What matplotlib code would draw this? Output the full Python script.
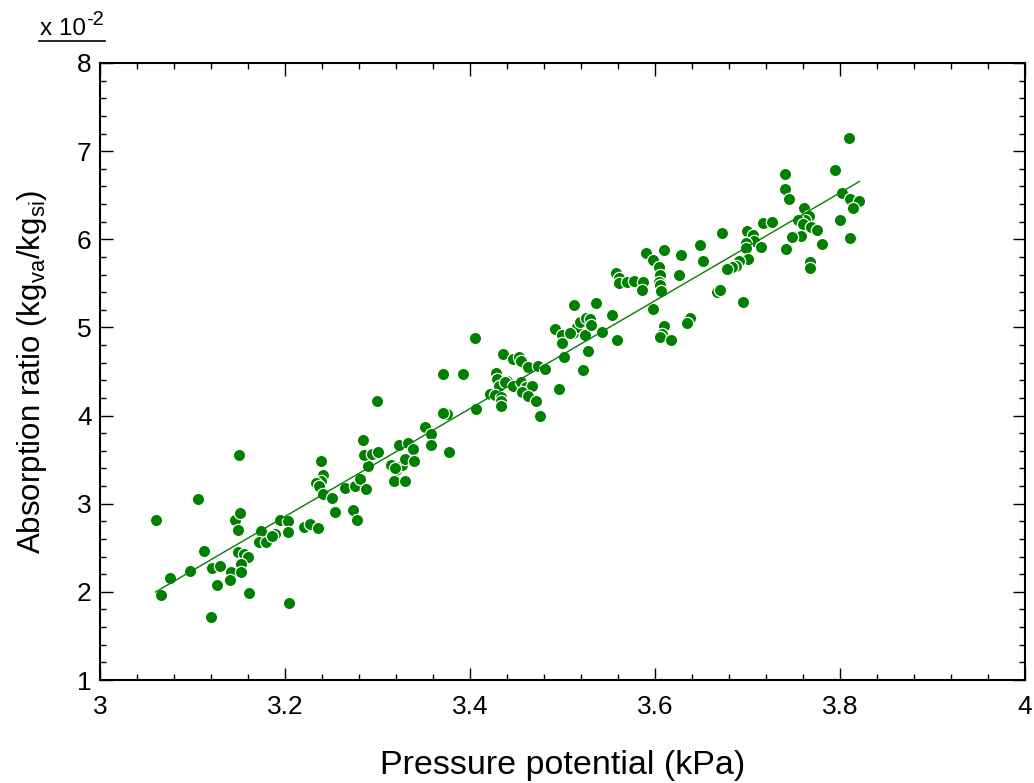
import numpy as np
import matplotlib
matplotlib.use("Agg")
import matplotlib.pyplot as plt
from matplotlib.lines import Line2D
from matplotlib.ticker import MultipleLocator, FuncFormatter

plt.rcParams['font.family'] = ['Liberation Sans', 'DejaVu Sans']
plt.rcParams['mathtext.fontset'] = 'custom'
plt.rcParams['mathtext.rm'] = 'Liberation Sans'
plt.rcParams['mathtext.it'] = 'Liberation Sans:italic'

# Pressure potential (kPa)
pressure = [
    3.060, 3.106, 3.076, 3.066, 3.097, 3.112, 3.121, 3.130, 3.126, 3.120,
    3.146, 3.151, 3.149, 3.149, 3.156, 3.160, 3.152, 3.142, 3.152, 3.141,
    3.161, 3.174, 3.172, 3.179, 3.189, 3.186, 3.195, 3.203, 3.203, 3.204,
    3.150, 3.220, 3.227, 3.236, 3.239, 3.241, 3.239, 3.234, 3.237, 3.241,
    3.251, 3.254, 3.265, 3.273, 3.278, 3.276, 3.281, 3.288, 3.290, 3.285,
    3.294, 3.301, 3.284, 3.299, 3.315, 3.320, 3.323, 3.327, 3.330, 3.318,
    3.330, 3.333, 3.338, 3.339, 3.319, 3.405, 3.371, 3.392, 3.375, 3.371,
    3.407, 3.351, 3.358, 3.358, 3.377, 3.436, 3.446, 3.453, 3.455, 3.463,
    3.473, 3.481, 3.502, 3.496, 3.476, 3.428, 3.429, 3.431, 3.422, 3.427,
    3.434, 3.434, 3.434, 3.440, 3.438, 3.447, 3.455, 3.460, 3.467, 3.456,
    3.463, 3.471, 3.492, 3.499, 3.499, 3.512, 3.511, 3.516, 3.519, 3.590,
    3.610, 3.598, 3.604, 3.605, 3.604, 3.605, 3.607, 3.626, 3.598, 3.610,
    3.608, 3.605, 3.617, 3.558, 3.561, 3.561, 3.570, 3.577, 3.587, 3.586,
    3.554, 3.559, 3.536, 3.525, 3.530, 3.508, 3.524, 3.531, 3.543, 3.528,
    3.522, 3.628, 3.649, 3.652, 3.638, 3.635, 3.667, 3.670, 3.695, 3.672,
    3.699, 3.706, 3.707, 3.698, 3.698, 3.715, 3.700, 3.691, 3.688, 3.683,
    3.678, 3.717, 3.726, 3.740, 3.741, 3.745, 3.761, 3.766, 3.762, 3.755,
    3.760, 3.769, 3.775, 3.758, 3.748, 3.780, 3.742, 3.768, 3.768, 3.810,
    3.795, 3.802, 3.811, 3.821, 3.814, 3.800, 3.811,
]

# Absorption ratio (x 10^-2 kg_va/kg_si)
ratio = [
    2.82, 3.05, 2.16, 1.96, 2.24, 2.46, 2.27, 2.29, 2.08, 1.72,
    2.81, 2.89, 2.70, 2.45, 2.43, 2.39, 2.32, 2.23, 2.22, 2.14,
    1.99, 2.69, 2.57, 2.56, 2.66, 2.63, 2.82, 2.80, 2.68, 1.87,
    3.55, 2.74, 2.77, 2.73, 3.48, 3.33, 3.26, 3.23, 3.20, 3.11,
    3.07, 2.91, 3.18, 2.93, 2.82, 3.20, 3.28, 3.17, 3.43, 3.55,
    3.56, 3.59, 3.72, 4.16, 3.44, 3.38, 3.67, 3.44, 3.51, 3.26,
    3.26, 3.69, 3.62, 3.49, 3.41, 4.88, 4.47, 4.47, 4.02, 4.03,
    4.08, 3.87, 3.79, 3.67, 3.59, 4.70, 4.64, 4.67, 4.62, 4.55,
    4.56, 4.53, 4.67, 4.30, 4.00, 4.48, 4.41, 4.34, 4.25, 4.23,
    4.21, 4.16, 4.11, 4.39, 4.38, 4.34, 4.38, 4.32, 4.33, 4.27,
    4.22, 4.17, 4.98, 4.91, 4.82, 5.25, 4.94, 5.00, 5.06, 5.84,
    5.88, 5.76, 5.69, 5.60, 5.51, 5.48, 5.41, 5.59, 5.21, 5.02,
    4.92, 4.89, 4.86, 5.62, 5.56, 5.50, 5.52, 5.53, 5.51, 5.42,
    5.14, 4.86, 5.28, 5.11, 5.09, 4.94, 4.91, 5.03, 4.95, 4.73,
    4.52, 5.82, 5.93, 5.75, 5.11, 5.05, 5.40, 5.42, 5.29, 6.07,
    6.09, 6.05, 5.98, 5.96, 5.90, 5.91, 5.78, 5.75, 5.70, 5.68,
    5.66, 6.19, 6.20, 6.74, 6.57, 6.46, 6.35, 6.26, 6.22, 6.22,
    6.17, 6.14, 6.10, 6.04, 6.03, 5.95, 5.89, 5.74, 5.67, 7.15,
    6.79, 6.53, 6.46, 6.44, 6.35, 6.22, 6.01,
]

x_ticks = [3, 3.2, 3.4, 3.6, 3.8, 4]
y_ticks = [1, 2, 3, 4, 5, 6, 7, 8]

GREEN = '#008000'

fig = plt.figure(figsize=(10.34, 7.83), dpi=100)
ax = fig.add_axes([100 / 1034, 1 - 680 / 783, 925 / 1034, 617 / 783])

x = np.array(pressure)
y = np.array(ratio)
ax.scatter(x, y, s=78, color=GREEN, edgecolors='white', linewidths=0.9, zorder=3)

coef = np.polyfit(x, y, 1)
xf = np.array([x.min(), x.max()])
ax.plot(xf, np.polyval(coef, xf), color=GREEN, lw=1.0, zorder=4)

ax.set_xlim(3, 4)
ax.set_ylim(1, 8)
ax.set_xticks(x_ticks)
ax.set_yticks(y_ticks)
ax.xaxis.set_minor_locator(MultipleLocator(0.04))
ax.yaxis.set_minor_locator(MultipleLocator(0.2))
ax.xaxis.set_major_formatter(FuncFormatter(lambda v, p: f'{v:g}'))
ax.yaxis.set_major_formatter(FuncFormatter(lambda v, p: f'{v:g}'))

ax.tick_params(which='both', direction='in', top=True, right=True,
               labelsize=19, width=1.0, colors='black')
ax.tick_params(which='major', length=9)
ax.tick_params(which='minor', length=4.5)
ax.tick_params(axis='x', which='major', pad=11)
ax.tick_params(axis='y', which='major', pad=6)
for sp in ax.spines.values():
    sp.set_linewidth(1.5)

ax.set_xlabel('Pressure potential (kPa)', fontsize=24.5, labelpad=22)
ax.set_ylabel(r'Absorption ratio (kg$_{\mathrm{va}}$/kg$_{\mathrm{si}}$)',
              fontsize=22.5, labelpad=20)

fig.text(40 / 1034, 1 - 35 / 783, 'x 10', fontsize=17.5, ha='left', va='baseline')
fig.text(86 / 1034, 1 - 25 / 783, '-2', fontsize=14.5, ha='left', va='baseline')
fig.add_artist(Line2D([39 / 1034, 105 / 1034], [1 - 41 / 783, 1 - 41 / 783],
                      transform=fig.transFigure, color='black', lw=1.2))

fig.savefig('out.png', dpi=100)
